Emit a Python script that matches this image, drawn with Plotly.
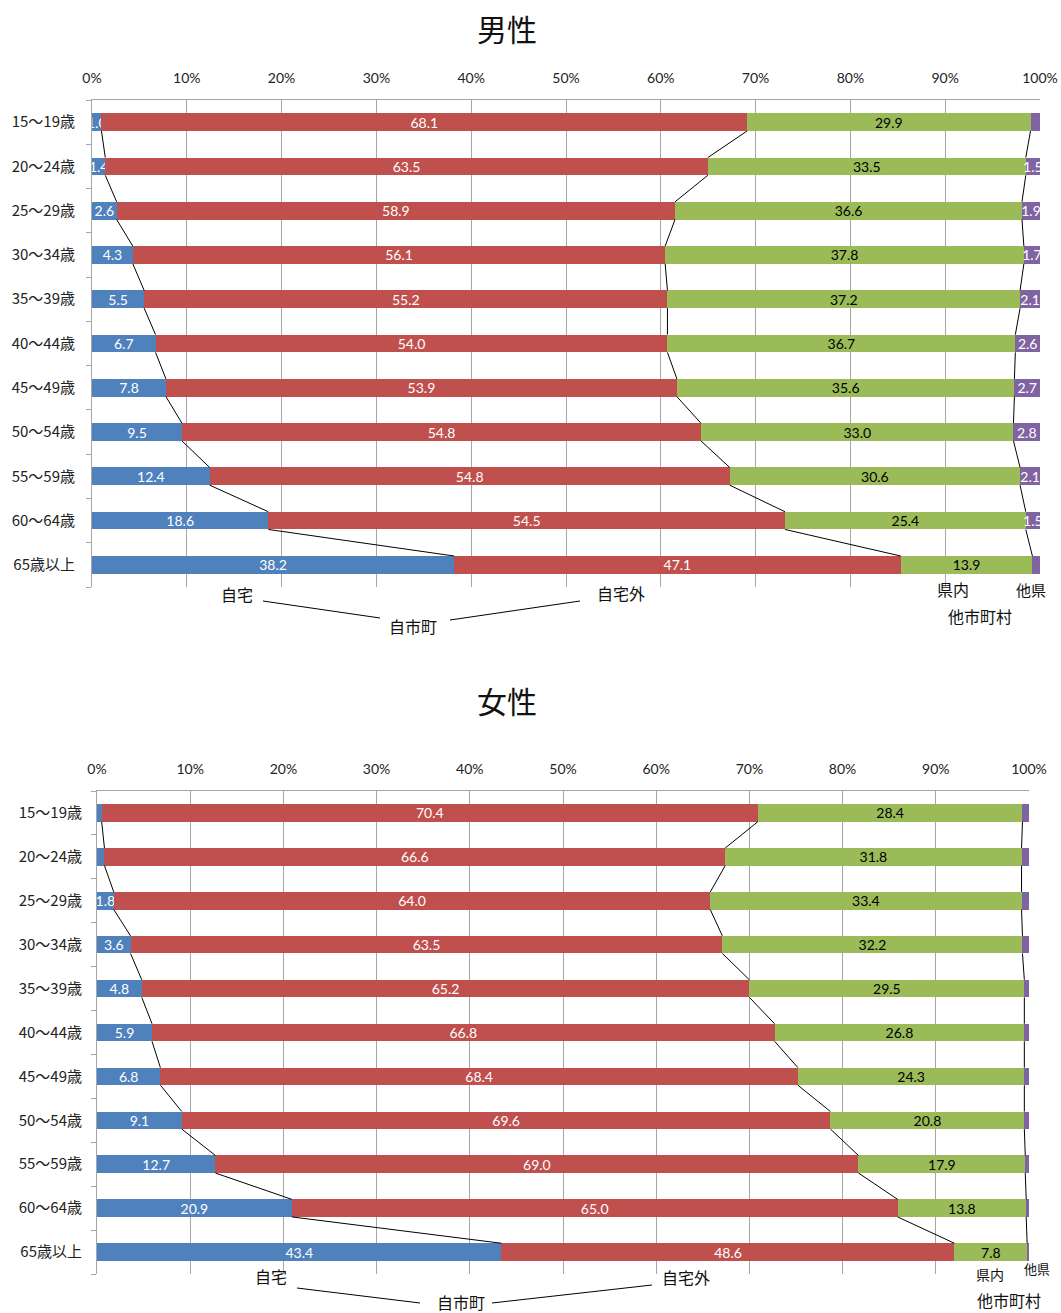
import plotly.graph_objects as go

# ---------------- data ----------------
ages = ["15〜19歳", "20〜24歳", "25〜29歳", "30〜34歳", "35〜39歳", "40〜44歳",
        "45〜49歳", "50〜54歳", "55〜59歳", "60〜64歳", "65歳以上"]
series_names = ["自宅", "自宅外", "県内他市町村", "他県"]
colors = ["#4F81BD", "#C0504D", "#9BBB59", "#8064A2"]
text_colors = ["white", "white", "black", "white"]

male_home = [1.0, 1.4, 2.6, 4.3, 5.5, 6.7, 7.8, 9.5, 12.4, 18.6, 38.2]
male_away = [68.1, 63.5, 58.9, 56.1, 55.2, 54.0, 53.9, 54.8, 54.8, 54.5, 47.1]
male_pref = [29.9, 33.5, 36.6, 37.8, 37.2, 36.7, 35.6, 33.0, 30.6, 25.4, 13.9]
male_other = [1.0, 1.5, 1.9, 1.7, 2.1, 2.6, 2.7, 2.8, 2.1, 1.5, 0.8]
male_show_other = [False, True, True, True, True, True, True, True, True, True, False]

female_home = [0.5, 0.8, 1.8, 3.6, 4.8, 5.9, 6.8, 9.1, 12.7, 20.9, 43.4]
female_away = [70.4, 66.6, 64.0, 63.5, 65.2, 66.8, 68.4, 69.6, 69.0, 65.0, 48.6]
female_pref = [28.4, 31.8, 33.4, 32.2, 29.5, 26.8, 24.3, 20.8, 17.9, 13.8, 7.8]
female_other = [0.7, 0.8, 0.8, 0.7, 0.5, 0.5, 0.5, 0.5, 0.4, 0.3, 0.2]
female_show_home = [False, False, True, True, True, True, True, True, True, True, True]

x_ticks = [0, 10, 20, 30, 40, 50, 60, 70, 80, 90, 100]

W, H = 1061, 1313
def px(x):
    return x / W
def py(y):
    return 1 - y / H

JP = "Noto Sans CJK JP"
NUM = "Lato"

fig = go.Figure()

def add_panel(series, shows, xa, ya):
    pos = list(range(len(ages)))
    for k, vals in enumerate(series):
        txt = [f"{v:.1f}" if shows[k][i] else "" for i, v in enumerate(vals)]
        fig.add_trace(go.Bar(
            y=pos, x=vals, orientation="h", width=0.4,
            name=series_names[k], marker=dict(color=colors[k], line=dict(width=0)),
            text=txt, textposition="inside", insidetextanchor="middle",
            textangle=0, constraintext="none", cliponaxis=False,
            textfont=dict(family=NUM, size=14, color=text_colors[k]),
            xaxis=xa, yaxis=ya, showlegend=False, hoverinfo="skip"))
    # series lines (normalised cumulative boundaries)
    totals = [sum(s[i] for s in series) for i in pos]
    for k in range(3):
        cum = [sum(series[j][i] for j in range(k + 1)) / totals[i] * 100 for i in pos]
        xs, ys = [], []
        for i in range(len(pos) - 1):
            xs += [cum[i], cum[i + 1], None]
            ys += [i + 0.2, i + 0.8, None]
        fig.add_trace(go.Scatter(x=xs, y=ys, mode="lines",
                                 line=dict(color="black", width=1),
                                 xaxis=xa, yaxis=ya, showlegend=False, hoverinfo="skip"))

male_series = [male_home, male_away, male_pref, male_other]
male_shows = [[True] * 11, [True] * 11, [True] * 11, male_show_other]
female_series = [female_home, female_away, female_pref, female_other]
female_shows = [female_show_home, [True] * 11, [True] * 11, [False] * 11]

add_panel(male_series, male_shows, "x", "y")
add_panel(female_series, female_shows, "x2", "y2")

grid = "#A6A6A6"
def xaxis_cfg(dom, anchor):
    return dict(domain=dom, anchor=anchor, side="top", range=[0, 100],
                tickvals=x_ticks, ticktext=[f"{t}%" for t in x_ticks],
                showgrid=True, gridcolor=grid, gridwidth=1,
                showline=True, linecolor=grid, linewidth=1,
                ticks="", zeroline=False, automargin=False,
                ticklabelstandoff=10,
                tickfont=dict(family=NUM, size=14, color="#222"), fixedrange=True)

def yaxis_cfg(dom, anchor, standoff):
    return dict(domain=dom, anchor=anchor, range=[10.5, -0.5],
                tickvals=list(range(11)), ticktext=ages, ticks="",
                ticklabelstandoff=standoff, automargin=False,
                showgrid=False, zeroline=False, showline=True,
                linecolor=grid, linewidth=1,
                minor=dict(tickmode="linear", tick0=0.5, dtick=1, ticks="outside",
                           ticklen=5, tickcolor=grid, showgrid=False),
                tickfont=dict(family=JP, size=15, color="#222"), fixedrange=True)

fig.update_layout(
    width=W, height=H, margin=dict(l=0, r=0, t=0, b=0),
    paper_bgcolor="white", plot_bgcolor="white",
    barmode="stack", barnorm="percent",
    xaxis=xaxis_cfg([px(92), px(1040)], "y"),
    yaxis=yaxis_cfg([py(587), py(100)], "x", 13),
    xaxis2=xaxis_cfg([px(97), px(1029)], "y2"),
    yaxis2=yaxis_cfg([py(1274), py(791)], "x2", 11),
)

def ann(text, x, y, size=16, family=JP):
    fig.add_annotation(text=text, x=px(x), y=py(y), xref="paper", yref="paper",
                       showarrow=False, xanchor="center", yanchor="middle",
                       font=dict(family=family, size=size, color="#111"))

def seg(x0, y0, x1, y1):
    fig.add_shape(type="line", xref="paper", yref="paper",
                  x0=px(x0), y0=py(y0), x1=px(x1), y1=py(y1),
                  line=dict(color="black", width=1))

# titles
ann("男性", 507, 28, size=30)
ann("女性", 507, 700, size=30)

# male labels
ann("自宅", 237, 594)
ann("自宅外", 621, 593)
ann("自市町", 413, 626)
ann("県内", 953, 589)
ann("他市町村", 980, 616)
ann("他県", 1031, 589, size=15)
seg(263, 601, 380, 618)
seg(450, 620, 580, 601)

# female labels
ann("自宅", 271, 1276)
ann("自宅外", 686, 1277)
ann("自市町", 461, 1302)
ann("県内", 990, 1274, size=14)
ann("他市町村", 1009, 1300)
ann("他県", 1037, 1268, size=13)
seg(297, 1288, 420, 1303)
seg(492, 1303, 652, 1285)

fig.write_html("out.html")
